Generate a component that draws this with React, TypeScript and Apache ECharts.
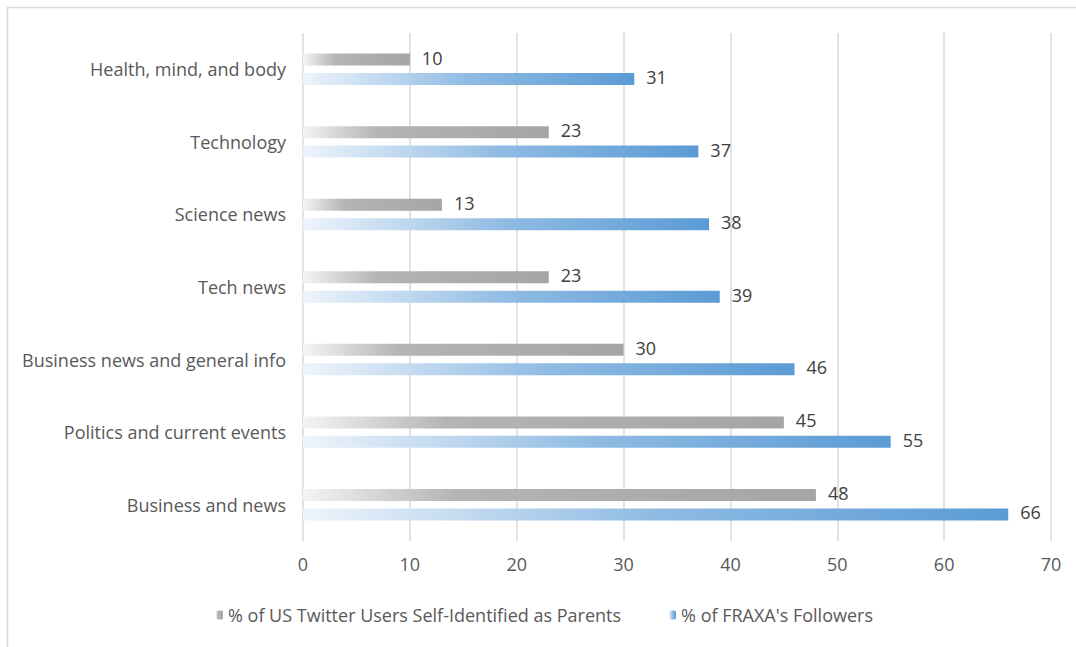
import React, { useEffect, useRef } from "react";
import * as echarts from "echarts";

const categories = [
  "Health, mind, and body",
  "Technology",
  "Science news",
  "Tech news",
  "Business news and general info",
  "Politics and current events",
  "Business and news",
];
const parentsValues = [10, 23, 13, 23, 30, 45, 48];
const fraxaValues = [31, 37, 38, 39, 46, 55, 66];
const seriesNames = [
  "% of US Twitter Users Self-Identified as Parents",
  "% of FRAXA's Followers",
];
const xTicks = { min: 0, max: 70, interval: 10 };

export default function App() {
  const ref = useRef<HTMLDivElement>(null);
  useEffect(() => {
    if (!ref.current) return;
    const chart = echarts.init(ref.current, undefined, { renderer: "svg" });
    const font = "'Open Sans', 'DejaVu Sans', sans-serif";
    const fs = 18;
    const grayGrad = new echarts.graphic.LinearGradient(0, 0, 1, 0, [
      { offset: 0, color: "#f4f4f4" },
      { offset: 0.3, color: "#b4b4b4" },
      { offset: 1, color: "#a5a5a5" },
    ]);
    const blueGrad = new echarts.graphic.LinearGradient(0, 0, 1, 0, [
      { offset: 0, color: "#eef4fb" },
      { offset: 0.5, color: "#8fbbe3" },
      { offset: 1, color: "#5b9bd5" },
    ]);
    const labelStyle = {
      show: true,
      position: "right",
      distance: 12,
      offset: [0, -2],
      color: "#404040",
      fontSize: fs,
      fontFamily: font,
    };
    chart.setOption({
      animation: false,
      backgroundColor: "#ffffff",
      textStyle: { fontFamily: font },
      graphic: [
        {
          type: "rect",
          shape: { x: 7.5, y: 7.5, width: 1100, height: 700 },
          style: { fill: "none", stroke: "#d9d9d9", lineWidth: 1.5 },
          silent: true,
        },
      ],
      grid: { left: 303, right: 25, top: 33, bottom: 106, containLabel: false },
      legend: {
        left: 211,
        top: 601,
        itemWidth: 7,
        itemHeight: 9,
        itemGap: 48,
        textStyle: { color: "#595959", fontSize: fs, fontFamily: font },
        data: seriesNames,
      },
      xAxis: {
        type: "value",
        min: xTicks.min,
        max: xTicks.max,
        interval: xTicks.interval,
        axisLine: { show: false },
        axisTick: { show: false },
        splitLine: { show: true, lineStyle: { color: "#d9d9d9", width: 1.5 } },
        axisLabel: { color: "#595959", fontSize: fs, margin: 14, fontFamily: font },
      },
      yAxis: {
        type: "category",
        inverse: true,
        data: categories,
        axisLine: { show: false },
        axisTick: { show: false },
        axisLabel: {
          color: "#595959",
          fontSize: fs,
          margin: 17,
          padding: [0, 0, 5, 0],
          fontFamily: font,
        },
      },
      series: [
        {
          name: seriesNames[0],
          type: "bar",
          data: parentsValues,
          barWidth: 12,
          barGap: "62%",
          itemStyle: { color: grayGrad },
          label: labelStyle,
        },
        {
          name: seriesNames[1],
          type: "bar",
          data: fraxaValues,
          barWidth: 12,
          barGap: "62%",
          itemStyle: { color: blueGrad },
          label: labelStyle,
        },
      ],
    });
    return () => chart.dispose();
  }, []);
  return (
    <div
      ref={ref}
      style={{ position: "fixed", left: 0, top: 0, width: 1076, height: 647 }}
    />
  );
}
